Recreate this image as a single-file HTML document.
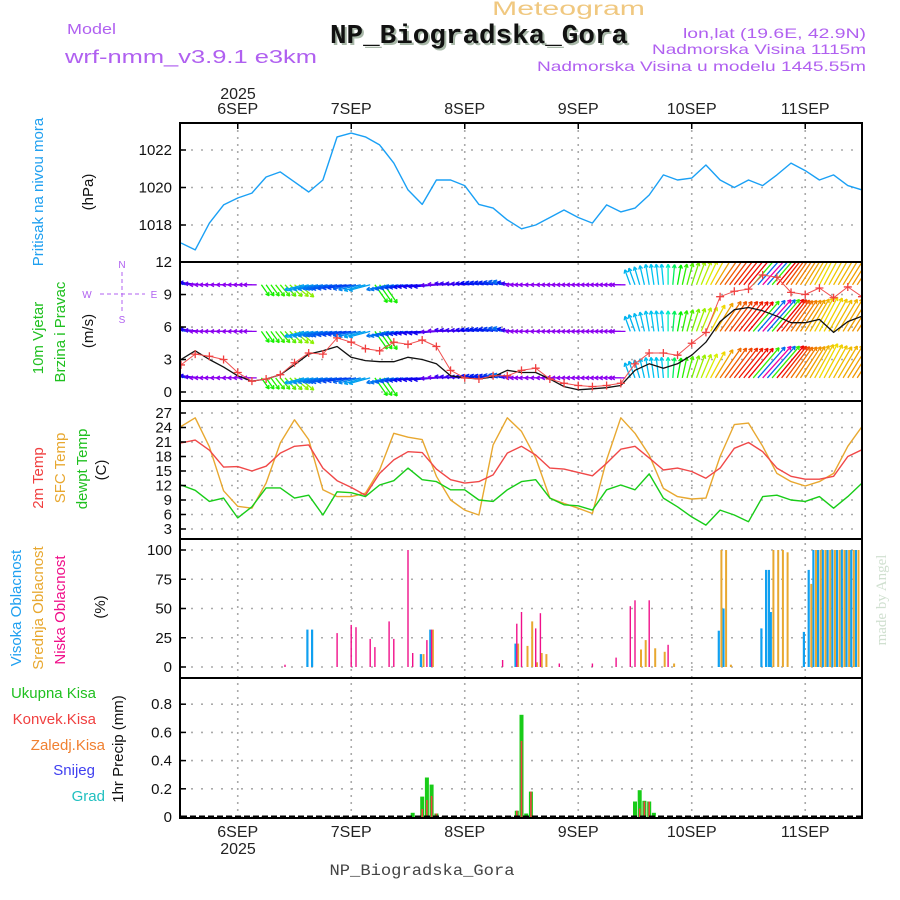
<!DOCTYPE html>
<html><head><meta charset="utf-8"><style>
html,body{margin:0;padding:0;background:#fff;}
svg{display:block;font-family:"Liberation Sans",sans-serif;}
</style></head><body>
<svg id="chart" width="900" height="900" viewBox="0 0 900 900">
<defs>
<clipPath id="cp1"><rect x="181" y="124" width="680" height="137"/></clipPath>
<clipPath id="cp2"><rect x="181" y="263" width="680" height="137"/></clipPath>
<clipPath id="cp3"><rect x="181" y="402" width="680" height="136"/></clipPath>
<clipPath id="cp4"><rect x="181" y="540" width="680" height="137"/></clipPath>
<clipPath id="cp5"><rect x="181" y="679" width="680" height="138"/></clipPath>
</defs>
<g id="grid"></g>
<g id="marks"></g>
<g id="frames"></g>
<g id="labels">
<text x="492" y="15" font-size="19" fill="#f0c880" textLength="153" lengthAdjust="spacingAndGlyphs">Meteogram</text>
<text x="67" y="34" font-size="15" fill="#b060f0" textLength="49" lengthAdjust="spacingAndGlyphs">Model</text>
<text x="65" y="63" font-size="18" fill="#b060f0" textLength="252" lengthAdjust="spacingAndGlyphs">wrf-nmm_v3.9.1 e3km</text>
<text x="332" y="45" font-size="27" font-weight="bold" font-family="Liberation Mono, monospace" fill="#a8b8a8" textLength="298" lengthAdjust="spacingAndGlyphs">NP_Biogradska_Gora</text>
<text x="330" y="43" font-size="27" font-weight="bold" font-family="Liberation Mono, monospace" fill="#111" textLength="298" lengthAdjust="spacingAndGlyphs">NP_Biogradska_Gora</text>
<text x="866" y="38" font-size="14" fill="#b060f0" text-anchor="end" textLength="183" lengthAdjust="spacingAndGlyphs">lon,lat (19.6E, 42.9N)</text>
<text x="866" y="54" font-size="14" fill="#b060f0" text-anchor="end" textLength="214" lengthAdjust="spacingAndGlyphs">Nadmorska Visina 1115m</text>
<text x="866" y="71" font-size="14" fill="#b060f0" text-anchor="end" textLength="329" lengthAdjust="spacingAndGlyphs">Nadmorska Visina u modelu 1445.55m</text>
<text x="238" y="99" font-size="16" fill="#222" text-anchor="middle">2025</text>
<text x="238" y="854" font-size="16" fill="#222" text-anchor="middle">2025</text>
<text x="422" y="875" font-size="16" fill="#444" text-anchor="middle" font-family="Liberation Mono, monospace" textLength="185" lengthAdjust="spacingAndGlyphs">NP_Biogradska_Gora</text>
<text transform="translate(43,192) rotate(-90)" font-size="15" fill="#20a0f0" text-anchor="middle">Pritisak na nivou mora</text>
<text transform="translate(93,192) rotate(-90)" font-size="15" fill="#111" text-anchor="middle">(hPa)</text>
<text transform="translate(43,338) rotate(-90)" font-size="15" fill="#20c020" text-anchor="middle">10m Vjetar</text>
<text transform="translate(65,332) rotate(-90)" font-size="15" fill="#20c020" text-anchor="middle">Brzina i Pravac</text>
<text transform="translate(93,331) rotate(-90)" font-size="15" fill="#111" text-anchor="middle">(m/s)</text>
<g fill="#b060f0" font-size="10" text-anchor="middle">
<text x="87" y="298">W</text><text x="154" y="298">E</text><text x="122" y="268">N</text><text x="122" y="323">S</text>
<line x1="100" y1="294" x2="145" y2="294" stroke="#b060f0" stroke-dasharray="4,3"/>
<line x1="122" y1="272" x2="122" y2="314" stroke="#b060f0" stroke-dasharray="4,3"/>
</g>
<text transform="translate(43,478) rotate(-90)" font-size="15" fill="#f04040" text-anchor="middle">2m Temp</text>
<text transform="translate(65,468) rotate(-90)" font-size="15" fill="#e8a830" text-anchor="middle">SFC Temp</text>
<text transform="translate(87,469) rotate(-90)" font-size="15" fill="#20c020" text-anchor="middle">dewpt Temp</text>
<text transform="translate(106,470) rotate(-90)" font-size="15" fill="#111" text-anchor="middle">(C)</text>
<text transform="translate(21,608) rotate(-90)" font-size="15" fill="#20a0f0" text-anchor="middle">Visoka Oblacnost</text>
<text transform="translate(43,608) rotate(-90)" font-size="15" fill="#e8a830" text-anchor="middle">Srednja Oblacnost</text>
<text transform="translate(65,610) rotate(-90)" font-size="15" fill="#f0108a" text-anchor="middle">Niska Oblacnost</text>
<text transform="translate(105,607) rotate(-90)" font-size="15" fill="#111" text-anchor="middle">(%)</text>
<text x="96" y="698" font-size="15" fill="#20c020" text-anchor="end">Ukupna Kisa</text>
<text x="96" y="724" font-size="15" fill="#f04040" text-anchor="end">Konvek.Kisa</text>
<text x="105" y="750" font-size="15" fill="#f08030" text-anchor="end">Zaledj.Kisa</text>
<text x="95" y="775" font-size="15" fill="#4040f0" text-anchor="end">Snijeg</text>
<text x="105" y="801" font-size="15" fill="#20c0c0" text-anchor="end">Grad</text>
<text transform="translate(123,749) rotate(-90)" font-size="15" fill="#111" text-anchor="middle">1hr Precip (mm)</text>
<text transform="translate(886,600) rotate(-90)" font-size="15" fill="#d0e0d0" text-anchor="middle" font-family="Liberation Serif, serif">made by Angel</text>
</g>
</svg>
<script>
// ---- data (3-hourly from 5 Sep 12 UTC) ----
const dayLabels = ["6SEP","7SEP","8SEP","9SEP","10SEP","11SEP"];
const dayHours = [12,36,60,84,108,132];
const pressure = [1017.04,1016.67,1018.1,1019.07,1019.44,1019.7,1020.56,1020.83,1020.3,1019.76,1020.4,1022.7,1022.9,1022.7,1022.27,1021.3,1019.87,1019.1,1020.4,1020.4,1020.1,1019.1,1018.9,1018.27,1017.8,1018.0,1018.4,1018.8,1018.4,1018.1,1019.07,1018.7,1018.9,1019.6,1020.67,1020.4,1020.5,1021.2,1020.4,1020.0,1020.4,1020.1,1020.67,1021.3,1020.9,1020.4,1020.67,1020.1,1019.87];
const windSpeed = [2.5,3.5,3.3,3.0,1.8,1.0,1.2,1.6,2.7,3.6,3.5,5.0,4.6,4.0,3.8,4.6,4.4,4.8,4.2,2.0,1.3,1.2,1.5,1.5,2.0,2.2,1.2,0.8,0.6,0.5,0.6,0.8,2.6,3.6,3.6,3.4,4.5,5.5,8.8,9.3,9.5,10.8,10.6,9.2,9.0,9.6,8.7,9.7,8.8];
const windMean = [3.0,3.8,3.0,2.3,1.5,1.0,1.2,1.6,2.5,3.5,3.8,4.2,3.2,2.9,2.8,2.8,3.2,3.0,2.6,1.5,1.3,1.2,1.4,2.0,1.8,1.8,1.2,0.5,0.2,0.3,0.4,0.6,2.0,2.6,2.2,2.6,3.4,4.6,6.5,7.6,7.8,7.5,7.0,6.4,6.4,6.7,5.5,6.5,7.0];
const windDir = [165,170,180,180,180,180,-55,-50,-40,195,192,190,188,195,-55,192,188,185,185,175,175,170,170,165,180,180,180,180,180,180,180,180,110,100,95,80,72,65,55,52,50,48,50,55,58,62,60,58,57];
const temp2m = [20.8,21.4,19.3,15.8,15.9,15.0,16.0,18.7,20.1,20.4,15.6,13.0,11.6,10.0,14.5,17.3,19.0,18.8,15.4,13.2,12.5,12.8,14.2,18.7,20.1,18.3,15.6,15.4,14.7,14.0,16.6,19.5,20.1,17.7,15.2,15.6,14.9,13.5,15.6,19.7,20.9,19.0,15.6,13.9,13.3,13.3,13.9,18.0,19.4];
const tempSfc = [24.2,26.0,20.0,10.9,7.7,7.3,12.5,20.8,25.6,21.5,11.1,9.7,9.7,10.4,15.2,22.8,22.0,21.5,13.9,9.0,6.9,5.9,20.4,26.0,23.2,17.7,9.4,8.3,7.3,6.2,17.3,26.0,22.8,18.3,11.4,9.7,9.2,9.4,18.0,24.6,24.9,20.1,14.5,12.8,11.9,12.8,14.5,20.1,24.2];
const tempDew = [12.1,11.0,8.7,9.4,5.3,7.6,11.5,11.5,9.4,10.0,5.9,10.7,10.5,9.7,12.1,13.0,15.6,13.2,12.8,11.1,11.1,9.0,8.7,11.1,12.8,13.2,9.4,8.0,7.8,6.9,11.1,12.1,11.1,14.4,9.4,7.6,5.5,3.8,6.9,5.9,4.5,9.7,10.0,9.0,8.7,9.7,7.3,9.7,12.5];
// cloud (hourly bars)
const lowHours = [22,33,36,37,40,41,44,45,48,49,52,53,68,71,72,75,76,80,87,92,95,96,99,103];
const lowVals  = [2,29,36,34,24,17,39,24,100,12,23,32,6,37,47,33,46,3,3,8,52,57,57,19];
const midHours = [51,53,71,73,74,75,76,77,97,98,100,102,104,114,115,116,125,126,127,128,133,134,135,136,137,138,139,140,141,142,143];
const midVals  = [11,32,20,18,39,4,12,11,15,23,16,13,3,100,100,2,100,100,100,98,71,100,100,100,100,100,100,100,100,100,100];
const highHours = [27,28,51,53,71,114,115,123,124,124.6,125,132,133,134,135,136,137,138,139,140,141,142,143];
const highVals  = [32,32,11,32,20,31,50,33,83,83,47,30,83,100,100,100,100,100,100,100,100,100,100];
// precip (hourly bars)
const precipHours = [49,51,52,53,54,71,72,73,74,96,97,98,99,100];
const precipTotal = [0.03,0.145,0.28,0.23,0.025,0.045,0.725,0.025,0.18,0.11,0.19,0.115,0.11,0.03];
const precipConv  = [0.0,0.057,0.12,0.15,0.025,0.045,0.54,0.0,0.18,0.01,0.06,0.11,0.11,0.0];
const pTicks = [1018,1020,1022], wTicks=[0,3,6,9,12], tTicks=[3,6,9,12,15,18,21,24,27], cTicks=[0,25,50,75,100], rTicks=[0,0.2,0.4,0.6,0.8];

// ---- scales ----
const X = h => 181 + h*4.729;
const yP = v => 150 + (1022 - v)*18.75;
const yW = v => 392 - v*10.83;
const yT = v => 413 + (27 - v)*4.833;
const yC = v => 667 - v*1.17;
const yR = v => 817 - v*141;
const NS = "http://www.w3.org/2000/svg";
function el(tag, attrs, parent){ const e=document.createElementNS(NS,tag); for(const k in attrs) e.setAttribute(k,attrs[k]); parent.appendChild(e); return e; }
const grid=document.getElementById('grid'), marks=document.getElementById('marks'), frames=document.getElementById('frames'), labels=document.getElementById('labels');
const panels=[[123,262],[262,401],[401,539],[539,678],[678,818]];

dayHours.forEach((h,i)=>{
  const l=el('line',{x1:X(h),x2:X(h),y1:123,y2:818,stroke:'#aaa','stroke-width':1.6,'stroke-dasharray':'2,5'},grid);
  
  
  const t1=el('text',{x:X(h),y:114,'font-size':16,fill:'#222','text-anchor':'middle'},labels); t1.textContent=dayLabels[i];
  
  
  const t2=el('text',{x:X(h),y:837,'font-size':16,fill:'#222','text-anchor':'middle'},labels); t2.textContent=dayLabels[i];
  
  
  el('line',{x1:X(h),x2:X(h),y1:123,y2:129,stroke:'#000','stroke-width':1.5},frames);
});
function hgrid(ticks, sc, fmt){
  ticks.forEach(v=>{
    const y=sc(v);
    const l=el('line',{x1:181,x2:861,y1:y,y2:y,stroke:'#aaa','stroke-width':1.6,'stroke-dasharray':'2,8'},grid);
    
    
    el('line',{x1:180,x2:186,y1:y,y2:y,stroke:'#000','stroke-width':1.5},frames);
    const t=el('text',{x:172,y:y+5,'font-size':15,fill:'#111','text-anchor':'end'},labels); t.textContent=fmt(v);
    
    
  });
}
hgrid(pTicks,yP,v=>v); hgrid(wTicks,yW,v=>v); hgrid(tTicks,yT,v=>v); hgrid(cTicks,yC,v=>v); hgrid(rTicks,yR,v=>v===0?'0':v.toFixed(1));
panels.forEach(p=>{
  const r=el('rect',{x:180,y:p[0],width:682,height:p[1]-p[0],fill:'none',stroke:'#000','stroke-width':2},frames);
  
  
});

function line(arr, sc, color, clip, name, w){
  const g=el('g',{'clip-path':'url(#'+clip+')'},marks);
  const pts=arr.map((v,i)=>X(i*3).toFixed(1)+','+sc(v).toFixed(1)).join(' ');
  const pl=el('polyline',{points:pts,fill:'none',stroke:color,'stroke-width':w||1.4,'stroke-linejoin':'round'},g);
  
  
  return g;
}
line(pressure,yP,'#1aa0f5','cp1','pressure-line');

// wind arrows
const hueTable=[[-90,130],[-55,115],[-40,85],[0,60],[48,320],[50,0],[55,28],[62,55],[72,90],[80,120],[95,190],[165,212],[180,275],[188,225],[195,200],[270,195]];
function hueOf(a){ while(a<-90)a+=360; while(a>=270)a-=360;
  for(let i=0;i<hueTable.length-1;i++){const [a0,h0]=hueTable[i],[a1,h1]=hueTable[i+1]; if(a>=a0&&a<=a1){return h0+(h1-h0)*(a-a0)/(a1-a0);}}
  return 130; }
const wg=el('g',{'clip-path':'url(#cp2)'},marks);


const bands=[9.9,5.6,1.3];
function arrow(x, base, spd, ang){
  const L=10+3*spd, r=ang*Math.PI/180, y=yW(base);
  const x2=x+L*Math.cos(r), y2=y-L*Math.sin(r);
  const c='hsl('+hueOf(ang).toFixed(0)+',100%,47%)';
  const a=el('path',{d:`M${x.toFixed(1)},${y.toFixed(1)}L${x2.toFixed(1)},${y2.toFixed(1)}`
    +`M${x2.toFixed(1)},${y2.toFixed(1)}l${(-4*Math.cos(r-0.5)).toFixed(1)},${(4*Math.sin(r-0.5)).toFixed(1)}`
    +`M${x2.toFixed(1)},${y2.toFixed(1)}l${(-4*Math.cos(r+0.5)).toFixed(1)},${(4*Math.sin(r+0.5)).toFixed(1)}`,
    stroke:c,'stroke-width':1.3,fill:'none'},wg);
  
  
}
bands.forEach(b=>{
  for(let i=0;i<windSpeed.length;i++){
    arrow(X(i*3),b,windSpeed[i],windDir[i]);
    if(i<windSpeed.length-1){
      for(const t of [1/3,2/3]){
        const sameSide=Math.abs(windDir[i+1]-windDir[i])<=60;
        const dir=sameSide?windDir[i]+(windDir[i+1]-windDir[i])*t:(t<0.5?windDir[i]:windDir[i+1]);
        arrow(X(i*3+3*t),b,windSpeed[i]+(windSpeed[i+1]-windSpeed[i])*t,dir);
      }
    }
  }
});
line(windMean,yW,'#111','cp2','wind-mean-line',1.3);
const sg=line(windSpeed,yW,'#f05050','cp2','wind-speed-line',1);
windSpeed.forEach((v,i)=>{
  const x=X(i*3),y=yW(v);
  const c=el('path',{d:`M${x-4},${y}h8M${x},${y-4}v8`,stroke:'#f04040','stroke-width':1.3},sg);
  
  
});

line(tempSfc,yT,'#e8a830','cp3','sfc-temp-line');
line(temp2m,yT,'#f04848','cp3','temp-2m-line');
line(tempDew,yT,'#18cc18','cp3','dewpt-line');

// clouds
const cg=el('g',{'clip-path':'url(#cp4)'},marks);
function bars(hrs, vals, color, w, off, name){
  hrs.forEach((h,i)=>{
    const x=X(h)+off, y=yC(vals[i]);
    const r=el('rect',{x:(x-w/2).toFixed(1),y:y.toFixed(1),width:w,height:(yC(0)-y).toFixed(1),fill:color},cg);
    
    
  });
}
bars(highHours,highVals,'#10a0f0',2.2,-1.3,'cloud-high-bar');
bars(midHours,midVals,'#e8a830',2.0,1.3,'cloud-mid-bar');
bars(lowHours,lowVals,'#f0108a',1.4,0,'cloud-low-bar');

// precip
const rg=el('g',{'clip-path':'url(#cp5)'},marks);
precipHours.forEach((h,i)=>{
  const x=X(h);
  const g=el('rect',{x:(x-2).toFixed(1),y:yR(precipTotal[i]).toFixed(1),width:4,height:(yR(0)-yR(precipTotal[i])).toFixed(1),fill:'#18cc18'},rg);
  
  
  const r=el('rect',{x:(x-0.8).toFixed(1),y:yR(precipConv[i]).toFixed(1),width:1.6,height:(yR(0)-yR(precipConv[i])).toFixed(1),fill:'#f04040'},rg);
  
  
});
el('line',{x1:181,x2:861,y1:816.5,y2:816.5,stroke:'#000','stroke-width':2,'stroke-dasharray':'6,3'},rg);
</script>
</body></html>
